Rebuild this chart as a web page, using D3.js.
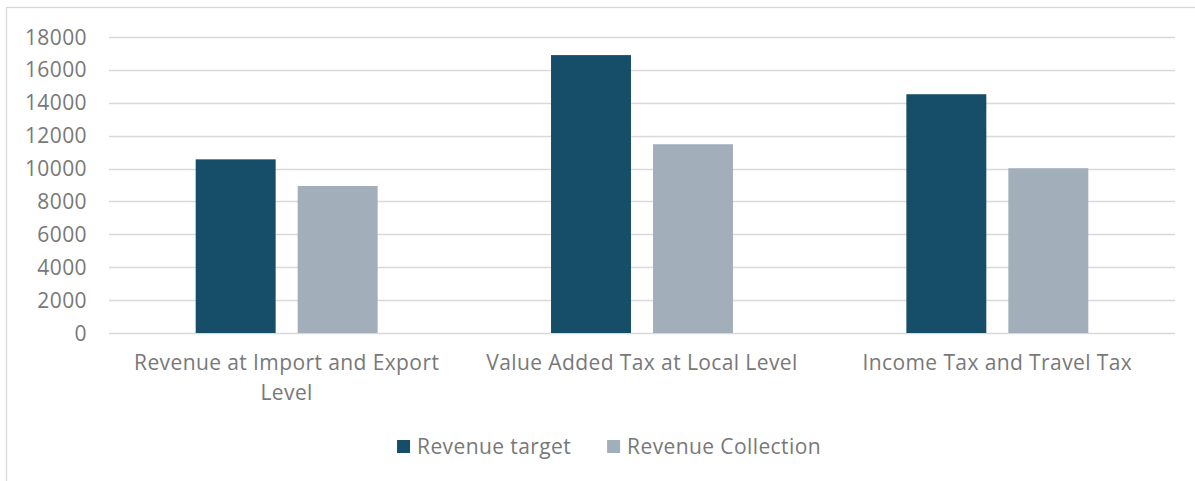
<!DOCTYPE html>
<html>
<head>
<meta charset="utf-8">
<script src="https://cdn.jsdelivr.net/npm/d3@7"></script>
<style>
  html, body { margin: 0; padding: 0; background: #fff; }
  svg text { font-family: "Open Sans", "Noto Sans", sans-serif; letter-spacing: 0.4px; }
</style>
</head>
<body>
<svg id="chart" width="1195" height="481"></svg>
<script>
// Data
const categories = [
  "Revenue at Import and Export Level",
  "Value Added Tax at Local Level",
  "Income Tax and Travel Tax"
];
const seriesNames = ["Revenue target", "Revenue Collection"];
const revenueTarget = [10560, 16900, 14520];
const revenueCollection = [8940, 11480, 10020];
const yTicks = [0, 2000, 4000, 6000, 8000, 10000, 12000, 14000, 16000, 18000];

const colors = ["#164e6a", "#a2afba"];
const textColor = "#787878";
const gridColor = "#d9d9d9";

const W = 1195, H = 481;
const margin = { left: 109, right: 20, top: 37, bottom: 148 };
const iW = W - margin.left - margin.right;
const iH = H - margin.top - margin.bottom;
const fontSize = 21;

const svg = d3.select("#chart");

// Outer frame (cropped: only top and left edges are visible)
svg.append("rect").attr("x", 6.5).attr("y", 7.5).attr("width", W + 20).attr("height", H + 20)
  .attr("fill", "#fff").attr("stroke", gridColor).attr("stroke-width", 1.3);

const x0 = d3.scaleBand().domain(categories).range([margin.left, margin.left + iW]).padding(0);
const x1 = d3.scaleBand().domain(seriesNames).range([0, x0.bandwidth()])
  .paddingInner(0.216).paddingOuter(0.85);
const y = d3.scaleLinear().domain([0, 18000]).range([margin.top + iH, margin.top]);

// Gridlines
svg.append("g").selectAll("line").data(yTicks).join("line")
  .attr("x1", margin.left).attr("x2", margin.left + iW)
  .attr("y1", d => Math.round(y(d)) + 0.5).attr("y2", d => Math.round(y(d)) + 0.5)
  .attr("stroke", gridColor).attr("stroke-width", 1.3);

// Y tick labels
svg.append("g").selectAll("text").data(yTicks).join("text")
  .attr("x", margin.left - 22).attr("y", d => y(d) + 7.5)
  .attr("text-anchor", "end").attr("font-size", fontSize).attr("fill", textColor)
  .text(d => d);

// Bars
const rows = categories.map((c, i) => ({ cat: c, vals: [revenueTarget[i], revenueCollection[i]] }));
const groups = svg.append("g").selectAll("g").data(rows).join("g")
  .attr("transform", d => `translate(${x0(d.cat)},0)`);
groups.selectAll("rect").data(d => d.vals.map((v, j) => ({ key: seriesNames[j], v, j })))
  .join("rect")
  .attr("x", d => x1(d.key)).attr("width", x1.bandwidth())
  .attr("y", d => y(d.v)).attr("height", d => y(0) - y(d.v))
  .attr("fill", d => colors[d.j]);

// Category labels with wrapping
const maxLabelW = 345;
svg.append("g").selectAll("text").data(categories).join("text")
  .attr("text-anchor", "middle").attr("font-size", fontSize).attr("fill", textColor)
  .attr("x", d => x0(d) + x0.bandwidth() / 2).attr("y", 370)
  .each(function (d) {
    const t = d3.select(this);
    const words = d.split(" ");
    let line = [], lines = [];
    t.text("");
    const probe = t.append("tspan");
    for (const w of words) {
      line.push(w);
      probe.text(line.join(" "));
      if (probe.node().getComputedTextLength() > maxLabelW && line.length > 1) {
        line.pop();
        lines.push(line.join(" "));
        line = [w];
      }
    }
    lines.push(line.join(" "));
    probe.remove();
    const cx = x0(d) + x0.bandwidth() / 2;
    lines.forEach((l, i) => {
      t.append("tspan").attr("x", cx).attr("dy", i === 0 ? 0 : 30).text(l);
    });
  });

// Legend
const legend = svg.append("g");
const items = legend.selectAll("g").data(seriesNames).join("g");
items.append("rect").attr("width", 13).attr("height", 13).attr("x", 0).attr("y", 440)
  .attr("fill", (d, i) => colors[i]);
items.append("text").attr("x", 20).attr("y", 454)
  .attr("font-size", fontSize).attr("fill", textColor).text(d => d);
let offs = [], cur = 0;
items.each(function () {
  offs.push(cur);
  cur += this.getBBox().width + 36;
});
const total = cur - 36;
const legendCenter = 609;
items.attr("transform", (d, i) => `translate(${legendCenter - total / 2 + offs[i]},0)`);
</script>
</body>
</html>
